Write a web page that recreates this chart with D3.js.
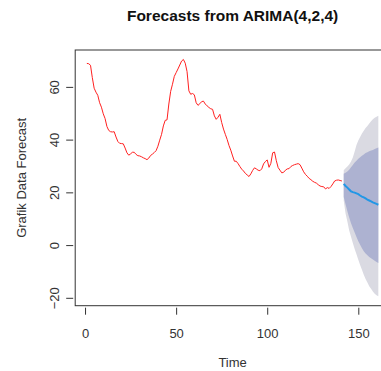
<!DOCTYPE html>
<html>
<head>
<meta charset="utf-8">
<script src="https://cdn.jsdelivr.net/npm/d3@7"></script>
<style>
  html, body { margin: 0; padding: 0; background: #ffffff; }
  svg { display: block; }
</style>
</head>
<body>
<div id="chart"></div>
<script>
// ---------- data ----------
const title = "Forecasts from ARIMA(4,2,4)";
const xLabel = "Time";
const yLabel = "Grafik Data Forecast";

// observed series, time 1..141
const observed = [
  68.9, 68.8, 68.2, 63.5, 59.5, 58.0, 56.8, 54.0, 52.3, 49.8,
  48.0, 45.0, 43.5, 43.0, 42.9, 43.0, 41.0, 39.3, 38.6, 38.5,
  38.4, 36.8, 35.0, 34.1, 34.6, 35.2, 35.2, 34.4, 33.9, 33.8,
  33.5, 33.1, 32.8, 32.4, 33.0, 34.0, 34.5, 35.1, 35.8, 37.5,
  39.8, 42.0, 45.2, 47.3, 47.5, 53.5, 58.3, 61.0, 64.0, 65.4,
  66.8, 68.3, 69.8, 70.4, 69.0, 65.8, 58.5, 57.2, 57.5, 57.0,
  54.0, 53.0, 53.6, 54.4, 54.6, 53.5, 52.8, 52.2, 51.7, 51.5,
  49.0, 47.7, 48.5, 49.6, 46.5, 44.0, 42.0, 40.1, 37.8, 36.0,
  33.8, 31.8, 31.8, 30.9, 29.8, 28.8, 28.1, 27.2, 26.6, 26.0,
  27.0, 28.3, 29.3, 28.9, 28.4, 28.2, 28.9, 30.8, 31.7, 32.3,
  29.5, 31.0, 35.0, 35.3, 32.0, 29.4, 28.4, 27.4, 27.6, 28.4,
  28.9, 29.0, 29.8, 30.2, 30.5, 30.7, 30.9, 30.5, 29.2, 27.8,
  26.8, 26.1, 25.3, 24.8, 24.2, 23.8, 23.5, 22.9, 22.4, 22.2,
  22.1, 21.3, 21.8, 21.5, 22.2, 23.2, 24.3, 24.6, 24.7, 24.5,
  24.3
];
const startTime = 1;

// forecast, time 142..161
const fcMean = [23.2, 22.4, 21.8, 21.1, 20.4, 20.1, 19.9, 19.6, 19.3, 18.8,
                18.4, 18.1, 17.7, 17.2, 16.9, 16.6, 16.2, 15.9, 15.6, 15.3];
const lo80 = [18.2, 15.5, 12.8, 10.5, 8.3, 6.5, 4.8, 3.1, 1.5, 0.1,
              -1.2, -2.3, -3.2, -3.9, -4.5, -5.0, -5.5, -5.9, -6.4, -6.8];
const hi80 = [27.1, 27.4, 27.9, 28.6, 29.5, 30.4, 31.3, 32.0, 32.7, 33.3,
              33.9, 34.4, 34.9, 35.2, 35.6, 35.9, 36.1, 36.4, 36.7, 37.0];
const lo95 = [16.8, 12.0, 8.9, 5.5, 3.2, 0.8, -1.5, -3.5, -5.6, -7.6,
              -9.4, -11.3, -12.9, -14.2, -15.6, -16.6, -17.6, -18.5, -19.0, -19.4];
const hi95 = [28.4, 29.1, 29.8, 30.6, 31.7, 33.2, 35.5, 38.0, 39.7, 41.0,
              42.3, 43.4, 44.4, 45.2, 46.1, 47.0, 47.7, 48.3, 48.7, 49.1];

const xTicks = [0, 50, 100, 150];
const yTicks = [-20, 0, 20, 40, 60];

// ---------- build records ----------
const obs = observed.map((v, i) => ({ t: startTime + i, v }));
const fcStart = startTime + observed.length;
const fc = fcMean.map((m, i) => ({
  t: fcStart + i, m, l80: lo80[i], h80: hi80[i], l95: lo95[i], h95: hi95[i]
}));

// ---------- layout ----------
const W = 381, H = 371;
const plot = { left: 75.2, right: 390, top: 50, bottom: 305.7 };

// R-style 4% padded limits
function padded(ext) { const d = (ext[1] - ext[0]) * 0.04; return [ext[0] - d, ext[1] + d]; }
const tExt = [startTime, fc[fc.length - 1].t];
const allY = observed.concat(lo95, hi95);
const yExt = d3.extent(allY);

const x = d3.scaleLinear().domain(padded(tExt)).range([plot.left, plot.right]);
const y = d3.scaleLinear().domain(padded(yExt)).range([plot.bottom, plot.top]);

const svg = d3.select("#chart").append("svg")
  .attr("width", W).attr("height", H)
  .style("font-family", "'Liberation Sans', Arial, Helvetica, sans-serif");

svg.append("defs").append("clipPath").attr("id", "clip")
  .append("rect")
  .attr("x", plot.left).attr("y", plot.top)
  .attr("width", plot.right - plot.left).attr("height", plot.bottom - plot.top);

const g = svg.append("g").attr("clip-path", "url(#clip)");

// bands
const band95 = d3.area().x(d => x(d.t)).y0(d => y(d.l95)).y1(d => y(d.h95));
const band80 = d3.area().x(d => x(d.t)).y0(d => y(d.l80)).y1(d => y(d.h80));
g.append("path").datum(fc).attr("d", band95).attr("fill", "#dadae2");
g.append("path").datum(fc).attr("d", band80).attr("fill", "#adb2d1");

// observed line
g.append("path").datum(obs)
  .attr("d", d3.line().x(d => x(d.t)).y(d => y(d.v)))
  .attr("fill", "none").attr("stroke", "#ff2020").attr("stroke-width", 1);

// forecast mean line
g.append("path").datum(fc)
  .attr("d", d3.line().x(d => x(d.t)).y(d => y(d.m)))
  .attr("fill", "none").attr("stroke", "#2297e6").attr("stroke-width", 2);

// box
svg.append("rect")
  .attr("x", plot.left).attr("y", plot.top)
  .attr("width", plot.right - plot.left).attr("height", plot.bottom - plot.top)
  .attr("fill", "none").attr("stroke", "#333").attr("stroke-width", 1);

// x axis
const xAxis = d3.axisBottom(x).tickValues(xTicks).tickSize(7).tickPadding(14)
  .tickFormat(d3.format("d"));
const gx = svg.append("g").attr("transform", `translate(0,${plot.bottom + 2})`).call(xAxis);
gx.select(".domain").remove();
gx.selectAll(".tick line").attr("stroke", "#333");
gx.selectAll(".tick text").attr("font-size", 13).attr("fill", "#333")
  .attr("font-family", "'Liberation Sans', Arial, sans-serif");

// y axis (labels rotated as in R)
const yAxis = d3.axisLeft(y).tickValues(yTicks).tickSize(7).tickPadding(0)
  .tickFormat(d3.format("d"));
const gy = svg.append("g").attr("transform", `translate(${plot.left - 2},0)`).call(yAxis);
gy.select(".domain").remove();
gy.selectAll(".tick line").attr("stroke", "#333");
gy.selectAll(".tick text")
  .attr("font-size", 13).attr("fill", "#333")
  .attr("font-family", "'Liberation Sans', Arial, sans-serif")
  .attr("x", null).attr("dy", null)
  .attr("text-anchor", "middle")
  .attr("transform", "translate(-19,0) rotate(-90)")
  .attr("dy", "0.35em");

// titles
svg.append("text")
  .attr("x", (plot.left + plot.right) / 2).attr("y", 21)
  .attr("text-anchor", "middle")
  .attr("font-size", 15.5).attr("font-weight", "bold").attr("fill", "#111")
  .text(title);

svg.append("text")
  .attr("x", (plot.left + plot.right) / 2).attr("y", 367)
  .attr("text-anchor", "middle")
  .attr("font-size", 13).attr("fill", "#333")
  .text(xLabel);

svg.append("text")
  .attr("transform", `translate(26,${(plot.top + plot.bottom) / 2}) rotate(-90)`)
  .attr("text-anchor", "middle")
  .attr("font-size", 13).attr("fill", "#333")
  .text(yLabel);
</script>
</body>
</html>
